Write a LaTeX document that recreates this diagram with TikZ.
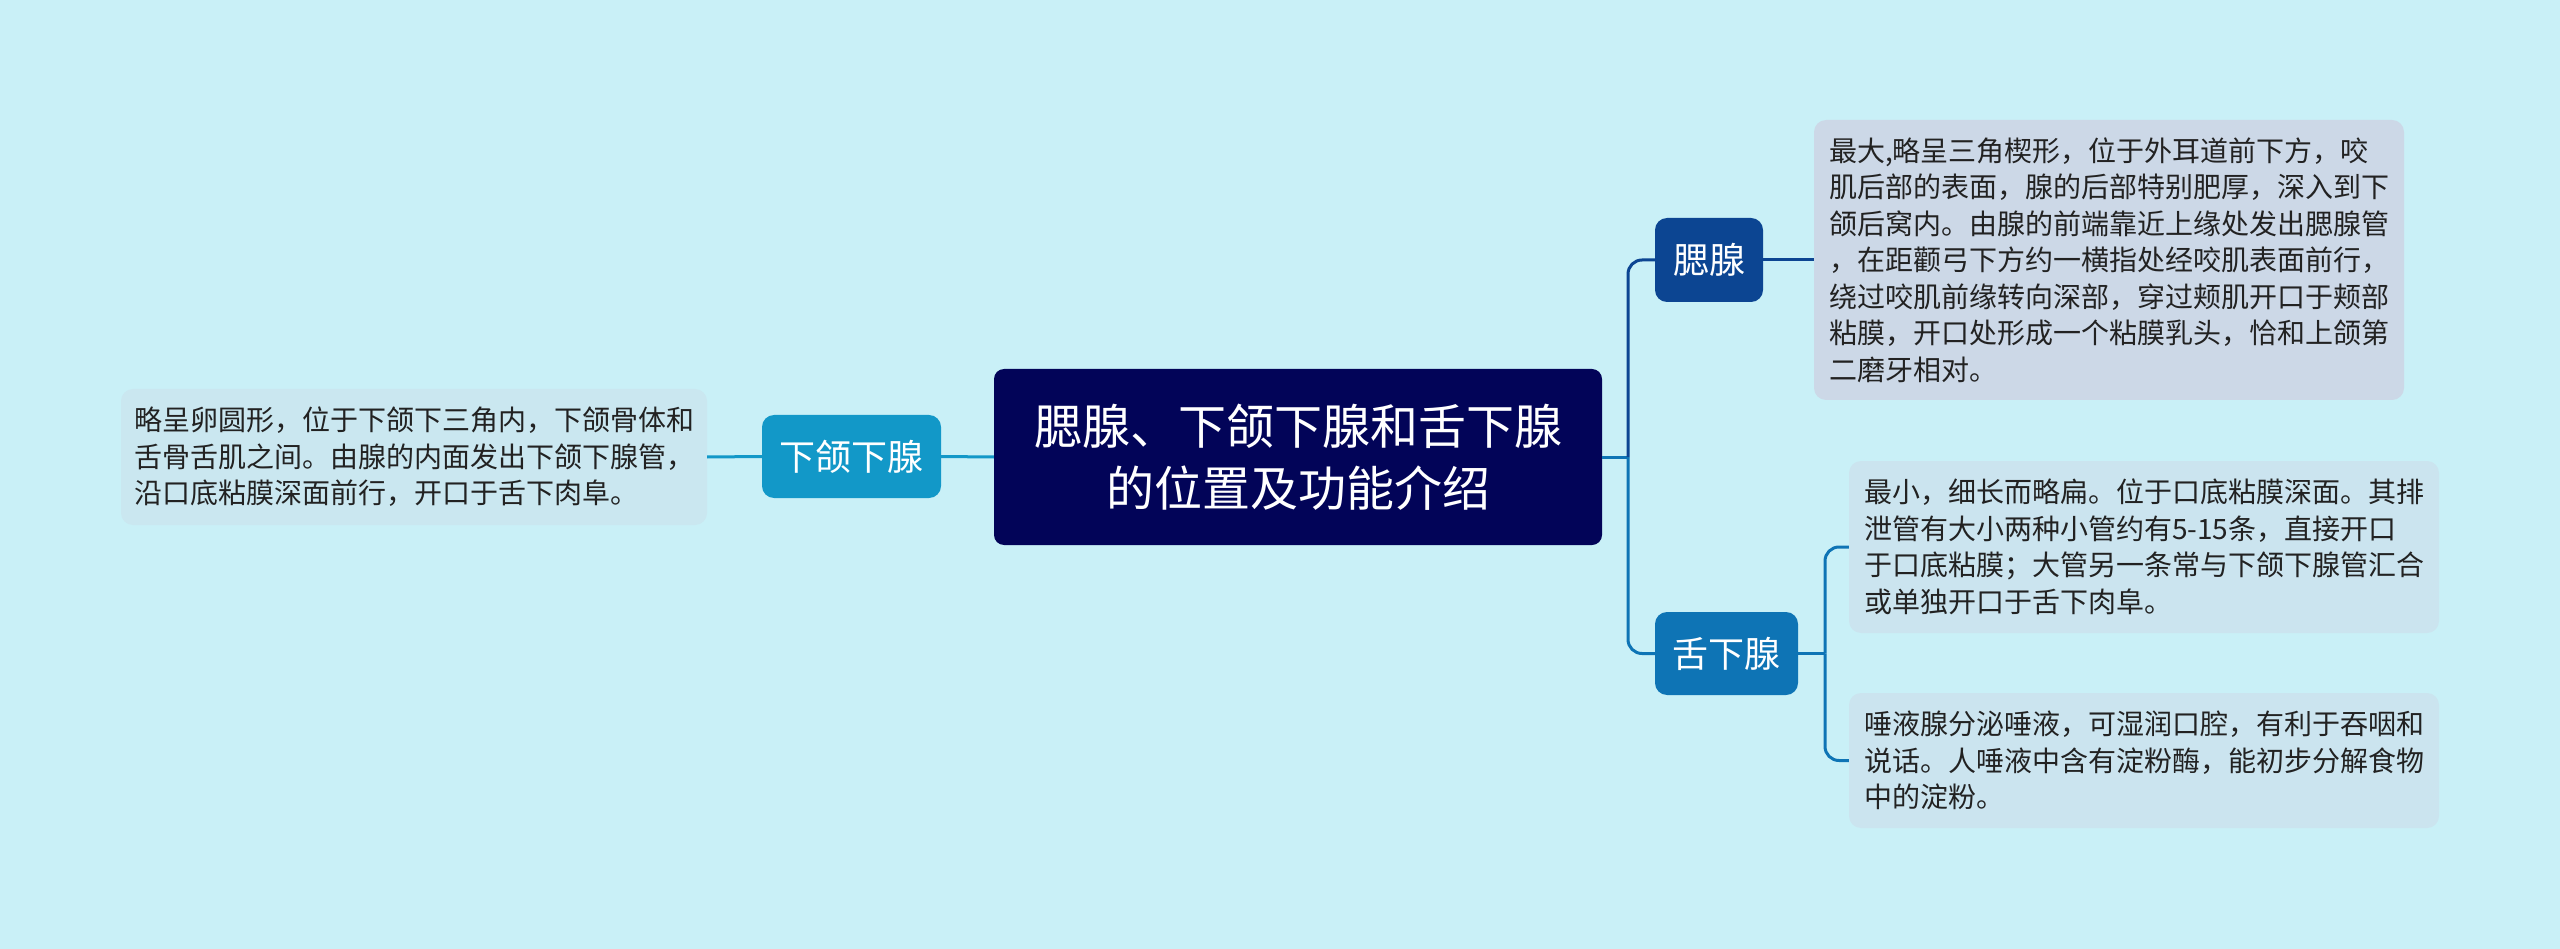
\documentclass[tikz,border=0pt]{standalone}
\usepackage{fontspec}
\setmainfont{Noto Sans CJK SC}
\definecolor{bgc}{HTML}{C9F0F7}
\definecolor{rootc}{HTML}{020458}
\definecolor{parc}{HTML}{0C4592}
\definecolor{subc}{HTML}{0E74B5}
\definecolor{manc}{HTML}{1298C8}
\definecolor{boxa}{HTML}{CCD8E7}
\definecolor{boxb}{HTML}{CBE4EF}
\definecolor{boxc}{HTML}{CAE7F0}
\definecolor{txtc}{HTML}{222222}
\tikzset{
  rootbox/.style={fill=rootc, rounded corners=10pt, inner sep=0pt, text=white, align=center,
    font=\fontsize{48}{62}\selectfont},
  topicbox/.style={rounded corners=12pt, inner sep=0pt, text=white,
    font=\fontsize{36}{44}\selectfont},
  leafbox/.style={rounded corners=12pt, inner sep=0pt, text=txtc, align=left,
    font=\fontsize{28}{36.5}\selectfont},
  link/.style={line width=3pt, rounded corners=14pt},
}
\begin{document}
\begin{tikzpicture}[x=1pt,y=-1pt]
\fill[bgc] (0,0) rectangle (2560,949);
\useasboundingbox (0,0) rectangle (2560,949);

\node[rootbox, minimum width=608pt, minimum height=176pt] (root) at (1298,457)
  {腮腺、下颌下腺和舌下腺\\的位置及功能介绍};

\node[topicbox, fill=manc, minimum width=179pt, minimum height=83pt] (man) at (851.5,456.5) {下颌下腺};
\node[topicbox, fill=parc, minimum width=108pt, minimum height=84pt] (par) at (1709,260) {腮腺};
\node[topicbox, fill=subc, minimum width=143pt, minimum height=83pt] (sub) at (1726.5,653.5) {舌下腺};

\node[leafbox, fill=boxc, minimum width=586pt, minimum height=136pt] (lb) at (414,457)
  {略呈卵圆形，位于下颌下三角内，下颌骨体和\\舌骨舌肌之间。由腺的内面发出下颌下腺管，\\沿口底粘膜深面前行，开口于舌下肉阜。};

\node[leafbox, fill=boxa, minimum width=590pt, minimum height=280pt] (b1) at (2109,260)
  {最大,略呈三角楔形，位于外耳道前下方，咬\\肌后部的表面，腺的后部特别肥厚，深入到下\\颌后窝内。由腺的前端靠近上缘处发出腮腺管\\，在距颧弓下方约一横指处经咬肌表面前行，\\绕过咬肌前缘转向深部，穿过颊肌开口于颊部\\粘膜，开口处形成一个粘膜乳头，恰和上颌第\\二磨牙相对。};

\node[leafbox, fill=boxb, minimum width=590pt, minimum height=172pt] (b2) at (2144,547)
  {最小，细长而略扁。位于口底粘膜深面。其排\\泄管有大小两种小管约有5-15条，直接开口\\于口底粘膜；大管另一条常与下颌下腺管汇合\\或单独开口于舌下肉阜。};

\node[leafbox, fill=boxb, minimum width=590pt, minimum height=135pt] (b3) at (2144,760.5)
  {唾液腺分泌唾液，可湿润口腔，有利于吞咽和\\说话。人唾液中含有淀粉酶，能初步分解食物\\中的淀粉。};

\coordinate (j1) at (1628,457);
\coordinate (j2) at (1825,653.5);

\draw[link, manc] (root.west) -- (man.east);
\draw[link, manc] (man.west) -- (lb.east);

\draw[link, subc] (root.east) -- (j1);
\draw[link, parc] (j1) |- (par.west);
\draw[link, subc] (j1) |- (sub.west);
\draw[link, parc] (par.east) -- (b1.west);

\draw[link, subc] (sub.east) -- (j2);
\draw[link, subc] (j2) |- (b2.west);
\draw[link, subc] (j2) |- (b3.west);
\end{tikzpicture}
\end{document}
